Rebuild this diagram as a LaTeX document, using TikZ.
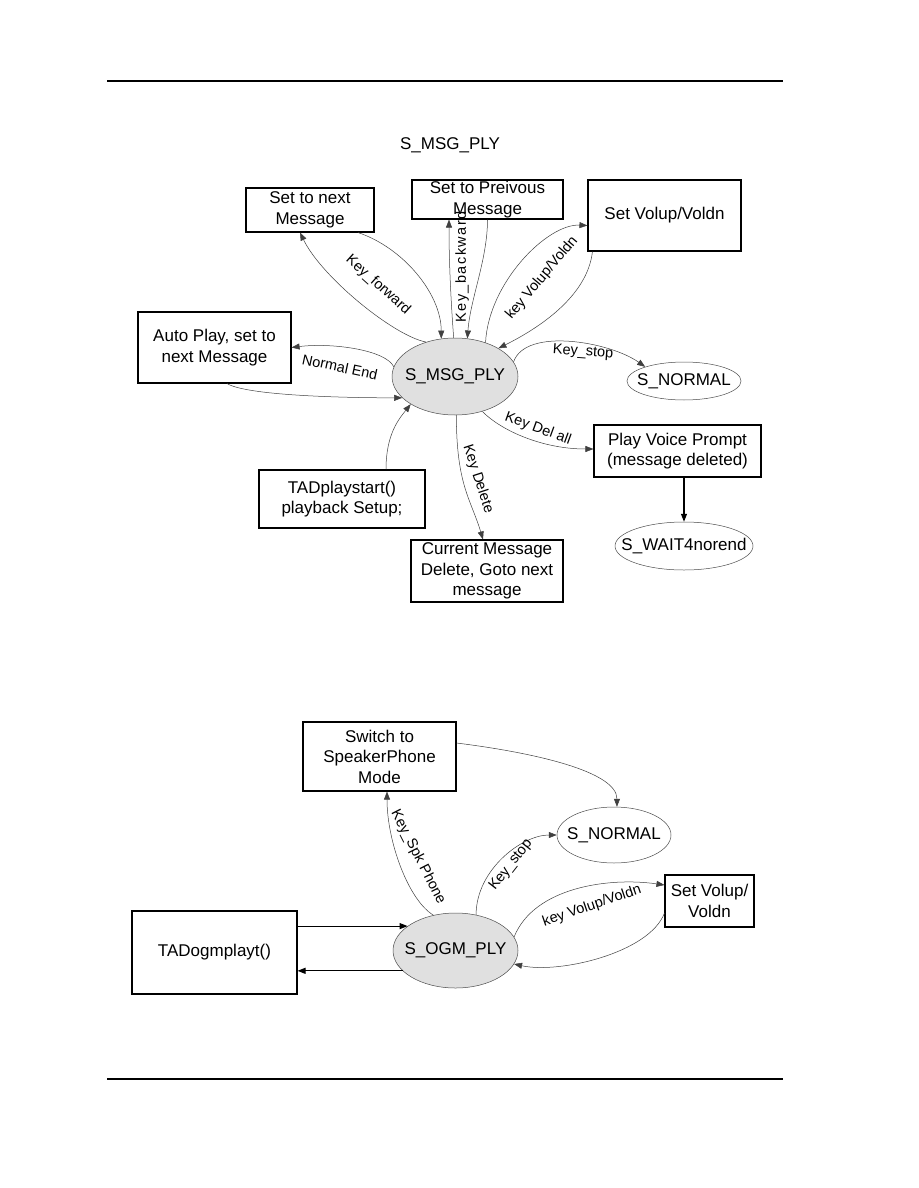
\documentclass[tikz,border=0pt]{standalone}
\usepackage{fontspec}
\setmainfont{Liberation Sans}
\usepackage{tikz}
\usetikzlibrary{shapes,arrows.meta,positioning,calc}
\newcommand{\nodefont}{\fontsize{17}{20.5}\selectfont}
\newcommand{\lblfont}{\fontsize{14.5}{16}\selectfont}

\begin{document}
\begin{tikzpicture}[x=1pt,y=-1pt,
    box/.style={draw,line width=1.1pt,align=center,inner sep=0pt,font=\nodefont},
    state/.style={draw=black!70,ellipse,line width=0.5pt,fill=black!12,inner xsep=-16pt,inner ysep=0pt,font=\nodefont},
    pstate/.style={draw=black!70,ellipse,line width=0.5pt,inner xsep=-16pt,inner ysep=0pt,font=\nodefont},
    link/.style={draw=black!75,line width=0.5pt,-{Triangle[length=8pt,width=6pt]}},
    blink/.style={line width=1.1pt,-{Triangle[length=8pt,width=6pt]}},
    lbl/.style={font=\lblfont,inner sep=0pt}]
  \useasboundingbox (0,0) rectangle (918,1188);
  % page rules
  \draw[line width=2.2pt] (107,81) -- (783,81);
  \draw[line width=2.2pt] (107,1079) -- (783,1079);
  \node[font=\nodefont] (title) at (450,145) {S\_MSG\_PLY};

  % S_MSG_PLY diagram
  \node[state,minimum width=126pt,minimum height=77pt] (msg) at (455,376.5) {S\_MSG\_PLY};
  \node[box,minimum width=128pt,minimum height=44pt] (bnext) at (310,210) {Set to next\\Message};
  \node[box,minimum width=151pt,minimum height=39pt] (bprev) at (487.5,199.5) {Set to Preivous\\Message};
  \node[box,minimum width=153pt,minimum height=71pt] (bvol) at (664.5,215.5) {Set Volup/Voldn};
  \node[box,minimum width=153pt,minimum height=71pt] (bauto) at (214.5,347.5) {Auto Play, set to\\next Message};
  \node[pstate,minimum width=114pt,minimum height=38pt] (norma) at (684,381) {S\_NORMAL};
  \node[box,minimum width=167pt,minimum height=52pt] (bvoice) at (677.5,451) {Play Voice Prompt\\(message deleted)};
  \node[pstate,minimum width=138pt,minimum height=48pt] (wait) at (684,546) {S\_WAIT4norend};
  \node[box,minimum width=166pt,minimum height=58pt] (bstart) at (342,499) {TADplaystart()\\playback Setup;};
  \node[box,minimum width=152pt,minimum height=62pt] (bcur) at (487,571) {Current Message\\Delete, Goto next\\message};

  \draw[link] (msg.130) .. controls +(-32,-6) and +(22,45) .. ($(bnext.south)+(-10,0)$);
  \draw[link] ($(bnext.south)+(48,0)$) .. controls +(45,15) and +(0,-45) .. (msg.110);
  \draw[link] (msg.92) .. controls +(-3,-40) and +(0,40) .. ($(bprev.south)+(-38.5,0)$);
  \draw[link] ($(bprev.south)+(0,0)$) .. controls +(0,40) and +(3,-40) .. (msg.72);
  \draw[link] (msg.48) .. controls +(3,-60) and +(-40,-2) .. ($(bvol.west)+(0,10)$);
  \draw[link] ($(bvol.south west)+(5,0)$) .. controls +(-5,45) and +(40,-20) .. (msg.33);
  \draw[link] (msg.171) .. controls +(-8,-17) and +(40,-5) .. (bauto.east);
  \draw[link] ($(bauto.south)+(12.5,0)$) .. controls +(20,12) and +(-60,0) .. (msg.202);
  \draw[link] ($(bstart.north)+(44,0)$) .. controls +(0,-35) and +(-12,15) .. (msg.212);
  \draw[link] (msg.14) .. controls +(12,-35) and +(-35,-25) .. (norma.160);
  \draw[link] (msg.-52) .. controls +(20,20) and +(-50,0) .. ($(bvoice.west)+(0,-2)$);
  \draw[link] (msg.-88) .. controls +(0,70) and +(-12,-40) .. ($(bcur.north)+(-4,0)$);
  \draw[blink] (bvoice.south -| wait.north) -- (wait.north);

  \node[lbl,rotate=-42] (lfwd) at (378,285) {Key\_forward};
  \node[lbl,rotate=90] (lback) at (462,267) {\addfontfeatures{LetterSpace=10}Key\_backward};
  \node[lbl,rotate=50] (lvol) at (542,278) {key Volup/Voldn};
  \node[lbl,rotate=-12] (lend) at (340,367) {Normal End};
  \node[lbl,rotate=-4] (lstop) at (583,352) {Key\_stop};
  \node[lbl,rotate=-20] (ldelall) at (538,429) {Key Del all};
  \node[lbl,rotate=-72] (ldel) at (478,479) {Key Delete};

  % S_OGM_PLY diagram
  \node[state,minimum width=125pt,minimum height=75pt] (ogm) at (455.5,950.5) {S\_OGM\_PLY};
  \node[box,minimum width=153pt,minimum height=69pt] (bspk) at (379.5,756.5) {Switch to\\SpeakerPhone\\Mode};
  \node[pstate,minimum width=114pt,minimum height=56pt] (normb) at (614,835) {S\_NORMAL};
  \node[box,minimum width=89pt,minimum height=52pt] (bvolb) at (709.5,901) {Set Volup/\\Voldn};
  \node[box,minimum width=165pt,minimum height=83pt] (bogm) at (214.5,952.5) {TADogmplayt()};

  \draw[link] (ogm.122) .. controls +(-25,-15) and +(0,50) .. ($(bspk.south)+(7.5,0)$);
  \draw[link] ($(bspk.east)+(0,-13.5)$) .. controls +(80,10) and +(0,-35) .. (normb.84);
  \draw[link] (ogm.60) .. controls +(0,-45) and +(-35,0) .. (normb.west);
  \draw[link] (ogm.13) .. controls +(20,-50) and +(-55,-8) .. ($(bvolb.west)+(0,-16)$);
  \draw[link] ($(bvolb.west)+(0,12)$) .. controls +(-15,40) and +(45,10) .. (ogm.-13);
  \draw[blink] (bogm.east |- ogm.153) -- (ogm.153);
  \draw[blink] (ogm.201) -- (bogm.east |- ogm.201);

  \node[lbl,rotate=-63] (lspk) at (418,857) {Key\_Spk Phone};
  \node[lbl,rotate=52] (lstopb) at (511,865) {Key\_stop};
  \node[lbl,rotate=19] (lvolb) at (592,906) {key Volup/Voldn};
\end{tikzpicture}
\end{document}
